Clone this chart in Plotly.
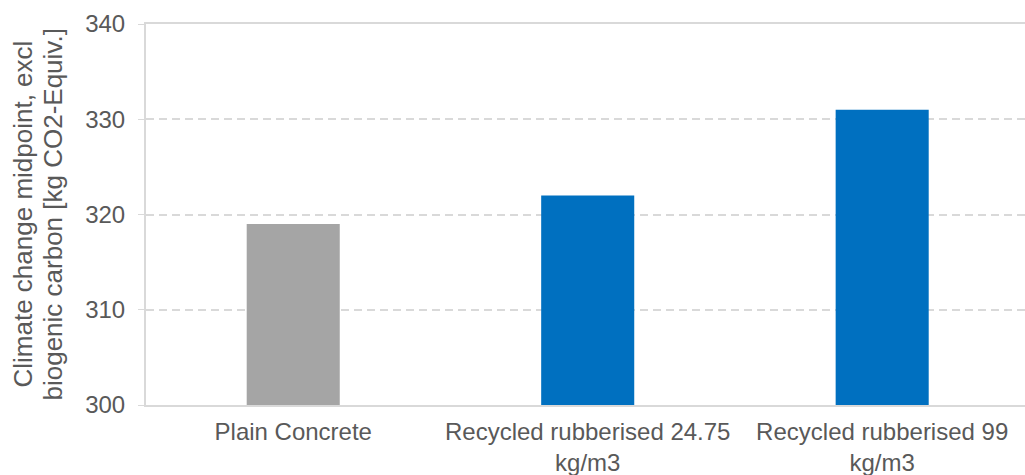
import plotly.graph_objects as go

# Climate change midpoint per concrete mix
categories = ["Plain Concrete", "Recycled rubberised 24.75<br>kg/m3", "Recycled rubberised 99<br>kg/m3"]
values = [319, 322, 331]
bar_colors = ["#a5a5a5", "#0070c0", "#0070c0"]
y_ticks = [300, 310, 320, 330, 340]
y_title_lines = ["Climate change midpoint, excl", "biogenic carbon [kg CO2-Equiv.]"]

FONT = "Liberation Sans, Arial, sans-serif"
TEXT = "#595959"
LINE = "#d9d9d9"

W, H = 1025, 475
ML, MR, MT, MB = 146, 0, 24, 70
plot_w = W - ML - MR

fig = go.Figure(
    go.Bar(
        x=list(range(len(categories))),
        y=values,
        marker=dict(color=bar_colors, line=dict(width=0)),
        width=0.316,
        showlegend=False,
    )
)

fig.update_layout(
    width=W,
    height=H,
    margin=dict(l=ML, r=MR, t=MT, b=MB),
    paper_bgcolor="white",
    plot_bgcolor="white",
    font=dict(family=FONT, size=24, color=TEXT),
)

fig.update_xaxes(
    tickmode="array",
    tickvals=list(range(len(categories))),
    ticktext=categories,
    range=[-0.5, 2.485],
    showline=True,
    linecolor=LINE,
    linewidth=2,
    mirror=True,
    ticks="",
    showgrid=False,
    ticklabelstandoff=4,
    tickfont=dict(size=24, color=TEXT),
)

fig.update_yaxes(
    range=[300, 340],
    tickvals=y_ticks,
    showline=True,
    linecolor=LINE,
    linewidth=2,
    ticks="outside",
    ticklen=6,
    tickcolor=LINE,
    showgrid=True,
    gridcolor=LINE,
    gridwidth=1.5,
    griddash="8px,5px",
    zeroline=False,
    ticklabelstandoff=8,
    tickfont=dict(size=24, color=TEXT),
)

# Two-line rotated y-axis title, one annotation per line for tight line spacing
for line_text, px_center in zip(y_title_lines, [22, 52]):
    fig.add_annotation(
        text=line_text,
        xref="paper",
        yref="paper",
        x=(px_center - ML) / plot_w,
        y=0.5,
        xanchor="center",
        yanchor="middle",
        textangle=-90,
        showarrow=False,
        font=dict(size=26, color=TEXT),
    )

fig.write_html("out.html")
